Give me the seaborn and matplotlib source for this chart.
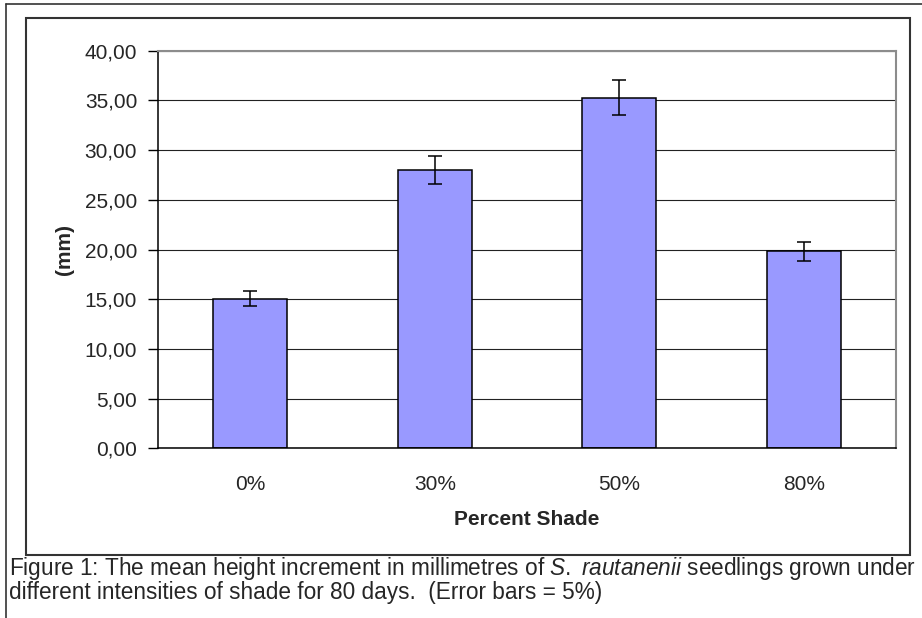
import numpy as np
import pandas as pd
import matplotlib
matplotlib.use('Agg')
import matplotlib.pyplot as plt
import seaborn as sns
from matplotlib.ticker import FuncFormatter, FixedLocator
from matplotlib.patches import Rectangle
from matplotlib.lines import Line2D

shade = ['0%', '30%', '50%', '80%']
height_mm = [15.07, 28.03, 35.27, 19.80]
err_mm = [0.75, 1.40, 1.76, 0.99]
y_ticks = [0, 5, 10, 15, 20, 25, 30, 35, 40]

df = pd.DataFrame({'shade': shade, 'height': height_mm})

sns.set_style('white')
plt.rcParams['font.family'] = ['Liberation Sans', 'DejaVu Sans']
plt.rcParams['mathtext.fontset'] = 'custom'
plt.rcParams['mathtext.rm'] = 'Liberation Sans'
plt.rcParams['mathtext.it'] = 'Liberation Sans:italic'

fig = plt.figure(figsize=(9.22, 6.18), dpi=100)
ax = fig.add_axes([158 / 922, 1 - 448.3 / 618, 738 / 922, 397.6 / 618])

sns.barplot(data=df, x='shade', y='height', color='#9999FF', saturation=1,
            width=0.4, edgecolor='black', linewidth=1.1, errorbar=None, ax=ax)
ax.errorbar(range(len(shade)), height_mm, yerr=err_mm, fmt='none',
            ecolor='black', elinewidth=1.1, capsize=5, capthick=1.1)

ax.set_xlim(-0.5, len(shade) - 0.5)
ax.set_ylim(0, 40)
ax.set_yticks(y_ticks)
ax.yaxis.set_major_formatter(FuncFormatter(lambda v, p: f'{v:.2f}'.replace('.', ',')))
ax.yaxis.grid(True, color='#222222', linewidth=0.8)
ax.set_axisbelow(True)

# category boundary ticks like the Excel chart
ax.xaxis.set_minor_locator(FixedLocator(np.arange(-0.5, len(shade), 1.0)))
ax.tick_params(axis='x', which='major', length=0, pad=19, labelsize=15)
ax.tick_params(axis='x', which='minor', length=7, width=1, color='black', direction='out')
ax.tick_params(axis='y', length=7, width=1, color='black', direction='out', pad=8, labelsize=15)
ax.tick_params(axis='both', bottom=True, left=True)

for s in ['left', 'bottom']:
    ax.spines[s].set_color('black')
    ax.spines[s].set_linewidth(1.1)
for s in ['top', 'right']:
    ax.spines[s].set_color('#8c8c8c')
    ax.spines[s].set_linewidth(1.5)
    ax.spines[s].set_visible(True)

ax.set_xlabel('Percent Shade', fontsize=15, fontweight='bold', labelpad=12)
ax.set_ylabel('(mm)', fontsize=15, fontweight='bold', labelpad=8)

# chart frame and page borders
fig.patches.append(Rectangle((26 / 922, 1 - 555 / 618), 884 / 922, 537 / 618,
                             transform=fig.transFigure, fill=False,
                             edgecolor='#333333', linewidth=1.5))
fig.lines.append(Line2D([6 / 922, 1], [1 - 4 / 618, 1 - 4 / 618],
                        transform=fig.transFigure, color='#333333', linewidth=1.2))
fig.lines.append(Line2D([6 / 922, 6 / 922], [0, 1 - 4 / 618],
                        transform=fig.transFigure, color='#333333', linewidth=1.2))

fig.text(9 / 922, 1 - 569 / 618,
         'Figure 1: The mean height increment in millimetres of $\\it{S.}$ $\\it{rautanenii}$ seedlings grown under',
         fontsize=16.3, va='center', ha='left')
fig.text(9 / 922, 1 - 592 / 618,
         'different intensities of shade for 80 days.  (Error bars = 5%)',
         fontsize=16.3, va='center', ha='left')

fig.savefig('out.png', dpi=100)
